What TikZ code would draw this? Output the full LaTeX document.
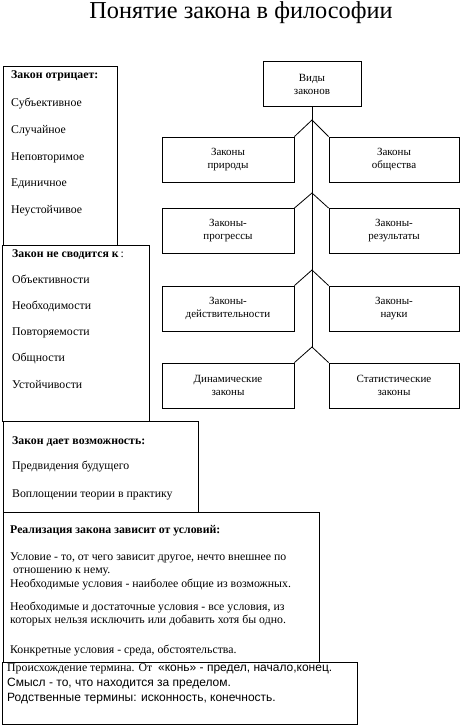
\documentclass[tikz,border=0pt]{standalone}
\usepackage{fontspec}
\setmainfont{Liberation Serif}
\newfontfamily\arialfont{Liberation Sans}
\usetikzlibrary{positioning}

\begin{document}
\begin{tikzpicture}[x=1pt, y=-1pt,
  frame/.style={draw, line width=0.8pt, inner sep=0pt, anchor=north west},
  kind/.style={draw, line width=0.8pt, minimum height=45pt, align=center,
               font=\fontsize{11}{13}\selectfont},
  item/.style={anchor=base west, inner sep=0pt, font=\fontsize{11.8}{14}\selectfont},
  head/.style={item, font=\fontsize{11.8}{14}\selectfont\bfseries},
  sans/.style={anchor=base west, inner sep=0pt, font=\fontsize{12}{14}\selectfont\arialfont},
]
  \useasboundingbox (0,0) rectangle (462,727);
  \node[anchor=base, font=\fontsize{24.3}{30}\selectfont] (title) at (241,19) {Понятие закона в философии};

  % left column of frames
  \node[frame, minimum width=114pt, minimum height=179pt] (negbox)  at (3,66)  {};
  \node[frame, minimum width=147pt, minimum height=176pt] (notbox)  at (2,245) {};
  \node[frame, minimum width=195pt, minimum height=91pt]  (allowbox) at (3,421) {};
  \node[frame, minimum width=316pt, minimum height=150pt] (condbox) at (3,512) {};
  \node[frame, minimum width=355pt, minimum height=62pt]  (origbox) at (2,662) {};

  \node[head] (neghead) at (11,79) {Закон отрицает:};
  \foreach \t [count=\i] in {Субъективное, Случайное, Неповторимое, Единичное, Неустойчивое}
    \node[item] (neg\i) at (11,{107+26.6*(\i-1)}) {\t};

  \node[item] (nothead) at (12,257) {\textbf{Закон не сводится к}\,:};
  \foreach \t [count=\i] in {Объективности, Необходимости, Повторяемости, Общности, Устойчивости}
    \node[item] (not\i) at (12,{283+26.3*(\i-1)}) {\t};

  \node[head] (allowhead) at (12,444) {Закон дает возможность:};
  \node[item] (allow1) at (12,469) {Предвидения будущего};
  \node[item] (allow2) at (12,497) {Воплощении теории в практику};

  \node[head] (condhead) at (10,533) {Реализация закона зависит от условий:};
  \node[item] (cond1) at (10,560)   {Условие - то, от чего зависит другое, нечто внешнее по};
  \node[item] (cond2) at (13,573.5) {отношению к нему.};
  \node[item] (cond3) at (10,587)   {Необходимые условия - наиболее общие из возможных.};
  \node[item] (cond4) at (10,610)   {Необходимые и достаточные условия - все условия, из};
  \node[item] (cond5) at (10,623.5) {которых нельзя исключить или добавить хотя бы одно.};
  \node[item] (cond6) at (10,653)   {Конкретные условия - среда, обстоятельства.};

  \node[item] (orig1) at (7,671) {Происхождение термина. От \ {\arialfont\fontsize{12}{14}\selectfont «конь» - предел, начало,конец.}};
  \node[sans] (orig2) at (7,686) {Смысл - то, что находится за пределом.};
  \node[sans] (orig3) at (7,701) {Родственные термины: исконность, конечность.};

  % tree of kinds
  \node[kind, minimum width=98pt] (vid) at (312,84) {Виды\\законов};
  \node[kind, minimum width=132pt] (nat)  at (228,159.5) {Законы\\природы};
  \node[kind, minimum width=130pt] (soc)  at (394,159.5) {Законы\\общества};
  \node[kind, minimum width=132pt] (prog) at (228,231)   {Законы-\\прогрессы};
  \node[kind, minimum width=130pt] (res)  at (394,231)   {Законы-\\результаты};
  \node[kind, minimum width=132pt] (real) at (228,308.5) {Законы-\\действительности};
  \node[kind, minimum width=130pt] (sci)  at (394,308.5) {Законы-\\науки};
  \node[kind, minimum width=132pt] (dyn)  at (228,385.5) {Динамические\\законы};
  \node[kind, minimum width=130pt] (stat) at (394,385.5) {Статистические\\законы};

  \coordinate (fork1) at (312,120);
  \coordinate (fork2) at (312,193);
  \coordinate (fork3) at (312,270);
  \coordinate (fork4) at (312,347);

  \draw[line width=0.8pt] (vid) -- (fork4);
  \foreach \f/\l/\r in {fork1/nat/soc, fork2/prog/res, fork3/real/sci, fork4/dyn/stat}
    \draw[line width=0.8pt] (\l.north east) -- (\f) -- (\r.north west);
\end{tikzpicture}
\end{document}
